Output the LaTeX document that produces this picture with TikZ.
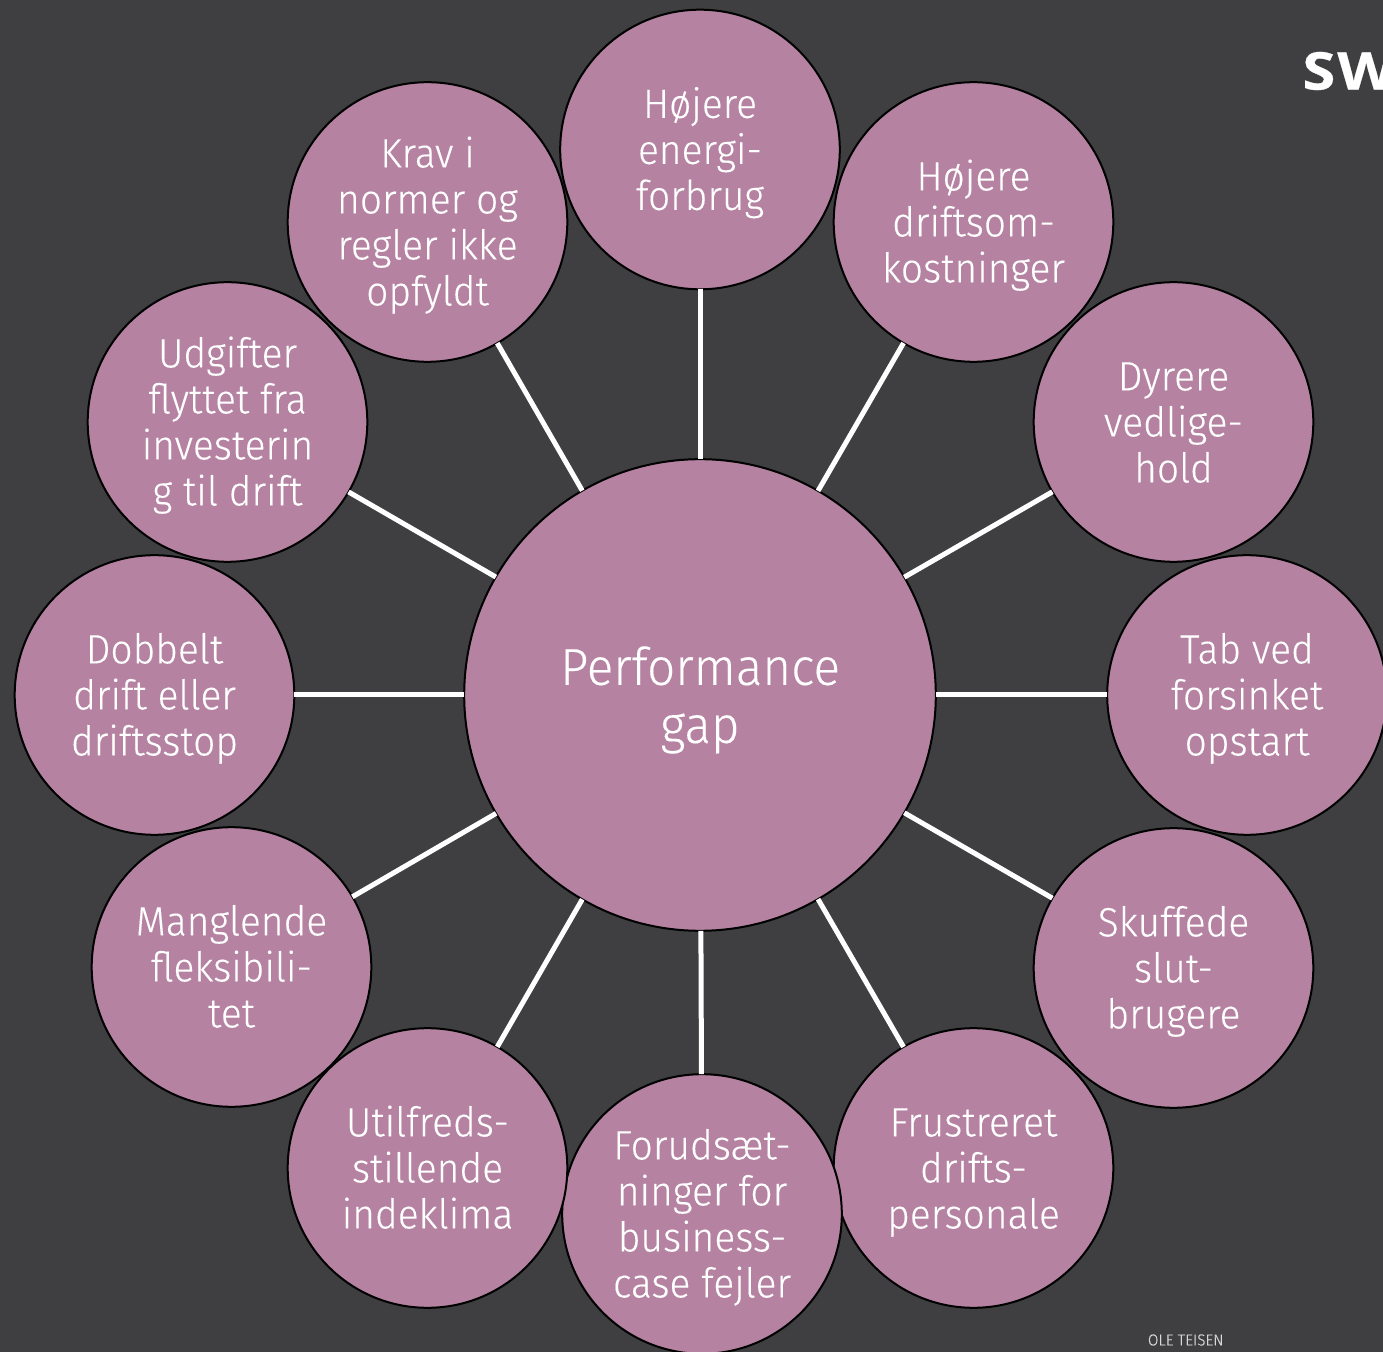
\documentclass[tikz,border=0pt]{standalone}
\usepackage{fontspec}
\setmainfont[FakeStretch=0.95,FakeBold=0.2]{Fira Sans Light}
\newfontfamily\logofont[FakeStretch=1.15,FakeBold=0.5]{Open Sans Bold}
\definecolor{bgdark}{HTML}{3F3F41}
\definecolor{mauve}{HTML}{B582A2}
\newcommand\lab[1]{\raisebox{-0.38em}[0pt][0pt]{\begin{tabular}{@{}c@{}}#1\end{tabular}}}
\tikzset{
  x=0.5pt,y=-0.5pt,
  bubble/.style={circle,draw=black,line width=1pt,fill=mauve,text=white,inner sep=0pt,outer sep=0pt,
    minimum size=139.8pt,align=center,font=\fontsize{20.5}{23}\selectfont},
  hub/.style={bubble,minimum size=235.8pt,font=\fontsize{26}{29}\selectfont},
  spoke/.style={white,line width=2.5pt},
}
\begin{document}
\begin{tikzpicture}
\useasboundingbox (0,0) rectangle (1383,1352);
\clip (0,0) rectangle (1383,1352);
\fill[bgdark] (0,0) rectangle (1383,1352);
\node[hub] (c) at (700,695) {\lab{Performance\\gap}};
\node[bubble] (n1) at (700,149.5) {\lab{Højere\\energi-\\forbrug}};
\node[bubble] (n2) at (973.5,222) {\lab{Højere\\driftsom-\\kostninger}};
\node[bubble] (n3) at (1173.5,422) {\lab{Dyrere\\vedlige-\\hold}};
\node[bubble] (n4) at (1247,695) {\lab{Tab ved\\forsinket\\opstart}};
\node[bubble] (n5) at (1173.5,968) {\lab{Skuffede\\slut-\\brugere}};
\node[bubble] (n6) at (973.5,1168) {\lab{Frustreret\\drifts-\\personale}};
\node[bubble] (n7) at (702,1214) {\lab{Forudsæt-\\ninger for\\business-\\case fejler}};
\node[bubble] (n8) at (427.5,1168) {\lab{Utilfreds-\\stillende\\indeklima}};
\node[bubble] (n9) at (231.5,967) {\lab{Manglende\\fleksibili-\\tet}};
\node[bubble] (n10) at (154.5,695) {\lab{Dobbelt\\drift eller\\driftsstop}};
\node[bubble] (n11) at (227.5,422) {\lab{Udgifter\\flyttet fra\\investerin\\g til drift}};
\node[bubble] (n12) at (427.5,222) {\lab{Krav i\\normer og\\regler ikke\\opfyldt}};
\foreach \i in {1,...,12} \draw[spoke] (c) -- (n\i);
\node[anchor=west,text=white,inner sep=0pt,font=\logofont\fontsize{26}{26}\selectfont] (logo) at (1302,71) {S\kern1pt W};
\node[anchor=west,text=white!85!black,inner sep=0pt,font=\fontsize{8}{9}\selectfont] (credit) at (1147.5,1340) {OLE TEISEN};
\end{tikzpicture}
\end{document}
